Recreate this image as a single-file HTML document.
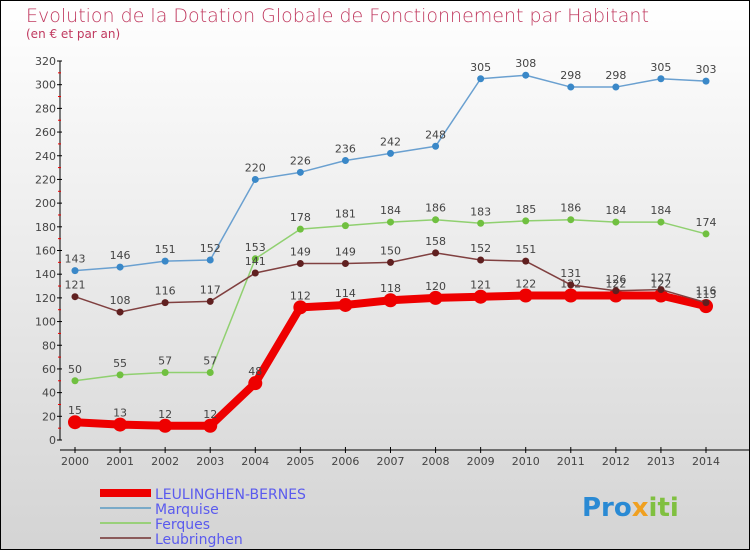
<!DOCTYPE html>
<html><head><meta charset="utf-8"><style>
body{margin:0}
#c{width:750px;height:550px;position:relative;overflow:hidden;font-family:"DejaVu Sans","Liberation Sans",sans-serif}
</style></head><body>
<div id="c">
<svg id="s" width="750" height="550" xmlns="http://www.w3.org/2000/svg">
<defs><linearGradient id="bg" x1="0" y1="0" x2="0" y2="1"><stop offset="0" stop-color="#ffffff"/><stop offset="1" stop-color="#d4d4d4"/></linearGradient></defs>
<rect x="0.5" y="0.5" width="749" height="549" fill="url(#bg)" stroke="#000"/>
<text x="26" y="22" font-size="19" fill="#c0395f" font-weight="300">Evolution de la Dotation Globale de Fonctionnement par Habitant</text>
<text x="26" y="38" font-size="12" fill="#c0395f">(en € et par an)</text>
<g id="axes"></g><g id="series"></g>
<g>
<line x1="100" y1="493" x2="151" y2="493" stroke="#e00" stroke-width="8"/>
<text x="155" y="499" font-size="14" fill="#5a5aee">LEULINGHEN-BERNES</text>
<line x1="100" y1="508" x2="151" y2="508" stroke="#7aaac8" stroke-width="2"/>
<text x="155" y="514" font-size="14" fill="#5a5aee">Marquise</text>
<line x1="100" y1="523" x2="151" y2="523" stroke="#99d07a" stroke-width="2"/>
<text x="155" y="529" font-size="14" fill="#5a5aee">Ferques</text>
<line x1="100" y1="538" x2="151" y2="538" stroke="#8a5a5a" stroke-width="2"/>
<text x="155" y="544" font-size="14" fill="#5a5aee">Leubringhen</text>
</g>
<text x="582" y="516" font-size="26" font-weight="bold" fill="#2a8ad4">Pro<tspan fill="#f0a020">x</tspan><tspan fill="#80c040">iti</tspan></text>
</svg></div>
<script>
const years=[2000,2001,2002,2003,2004,2005,2006,2007,2008,2009,2010,2011,2012,2013,2014];
const leulinghen=[15,13,12,12,48,112,114,118,120,121,122,122,122,122,113];
const marquise=[143,146,151,152,220,226,236,242,248,305,308,298,298,305,303];
const ferques=[50,55,57,57,153,178,181,184,186,183,185,186,184,184,174];
const leubringhen=[121,108,116,117,141,149,149,150,158,152,151,131,126,127,116];
const yTicks=[0,20,40,60,80,100,120,140,160,180,200,220,240,260,280,300,320];
const NS="http://www.w3.org/2000/svg";
const X=i=>75+i*(706-75)/14, Y=v=>440-v*(440-61)/320;
function mk(t,a,p){const e=document.createElementNS(NS,t);for(const k in a)e.setAttribute(k,a[k]);p.appendChild(e);return e;}
const ax=document.getElementById('axes'), sg=document.getElementById('series');
let l=mk('line',{x1:60,y1:61,x2:60,y2:440,stroke:'#000'},ax);


yTicks.forEach(v=>{
  mk('line',{x1:57,y1:Y(v),x2:62,y2:Y(v),stroke:'#000'},ax);
  if(v<320) mk('line',{x1:58,y1:Y(v+10),x2:61,y2:Y(v+10),stroke:'#e00'},ax);
  const t=mk('text',{x:56,y:Y(v)+4,'font-size':11,fill:'#444','text-anchor':'end'},ax);
  
  
  t.textContent=v;
});
l=mk('line',{x1:60,y1:450,x2:750,y2:450,stroke:'#000'},ax);


years.forEach((y,i)=>{
  mk('line',{x1:X(i),y1:447,x2:X(i),y2:453,stroke:'#000'},ax);
  const t=mk('text',{x:X(i),y:465,'font-size':11,fill:'#444','text-anchor':'middle'},ax);
  
  
  t.textContent=y;
});
function series(d,name,col,w,r,dot){
  const g=mk('g',{},sg);
  
  
  mk('polyline',{points:d.map((v,i)=>X(i)+','+Y(v)).join(' '),fill:'none',stroke:col,'stroke-width':w,'stroke-linejoin':'round'},g);
  d.forEach((v,i)=>{
    const c=mk('circle',{cx:X(i),cy:Y(v),r:r,fill:dot},g);
    
    
    const t=mk('text',{x:X(i),y:Y(v)-8,'font-size':11,fill:'#444','text-anchor':'middle'},g);
    
    
    t.textContent=v;
  });
}
series(marquise,'marquise-series','#6aa0d0',1.5,3.5,'#3a88c8');
series(ferques,'ferques-series','#90d070',1.5,3.5,'#70c040');
series(leulinghen,'leulinghen-series','#ee0000',8,7,'#ee0000');
series(leubringhen,'leubringhen-series','#804040',1.5,3.5,'#602020');
</script>
</body></html>
